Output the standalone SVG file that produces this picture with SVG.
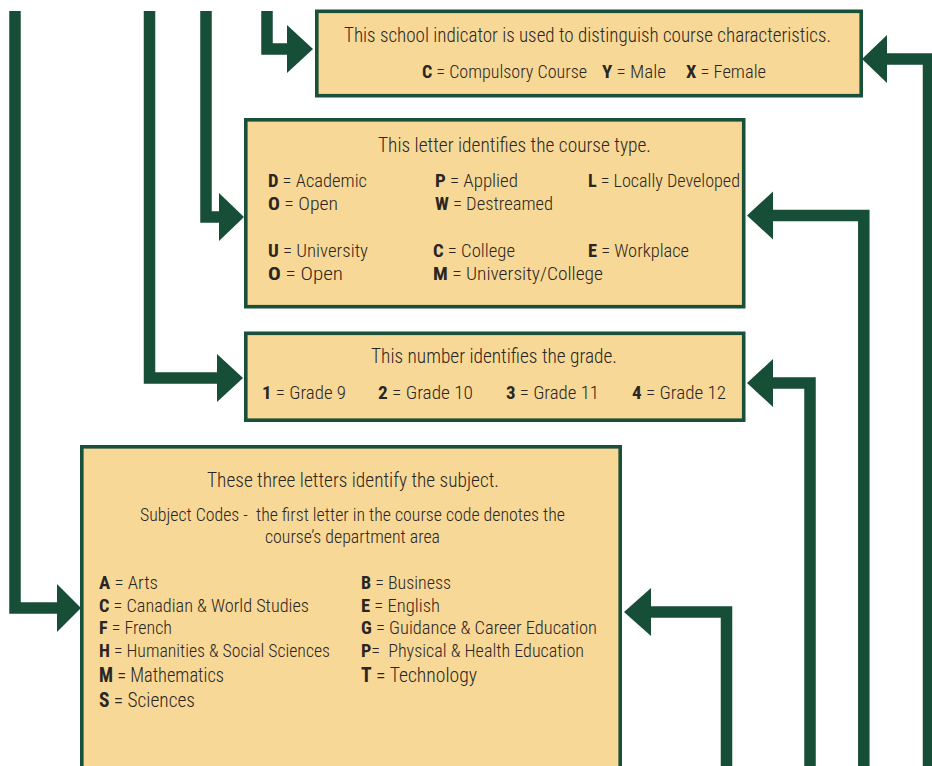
<svg xmlns="http://www.w3.org/2000/svg" width="932" height="766" viewBox="0 0 932 766">
<style>
.box{fill:#F8D896;stroke:#18503A;stroke-width:3.6}
.conn{fill:none;stroke:#174E37;stroke-width:11.5;stroke-linejoin:miter;stroke-linecap:butt}
.head{fill:#174E37}
text{font-family:"Liberation Sans Narrow","Arial Narrow","Roboto Condensed","Liberation Sans",sans-serif;font-stretch:condensed;font-weight:300;fill:#2A2623;font-size:17.5px}
.t{font-size:20px}
.b{font-weight:bold}
.lg{font-size:19.5px}
</style>
<rect width="932" height="766" fill="#FFFFFF"/>
<g id="connectors">
<polyline class="conn" points="15,11 15,608 58,608"/>
<polygon class="head" points="57,584 81,608 57,632"/>
<polyline class="conn" points="149.5,11 149.5,378 218,378"/>
<polygon class="head" points="217,354 243,378 217,402"/>
<polyline class="conn" points="206,11 206,217 220,217"/>
<polygon class="head" points="219,193 244,217 219,241"/>
<polyline class="conn" points="267,11 267,49 288,49"/>
<polygon class="head" points="287,25 313,49 287,73"/>
<polyline class="conn" points="726.5,766 726.5,612 650,612"/>
<polygon class="head" points="651,588 624,612 651,636"/>
<polyline class="conn" points="810,766 810,383 772,383"/>
<polygon class="head" points="773,359 747,383 773,407"/>
<polyline class="conn" points="863.8,766 863.8,215.5 772,215.5"/>
<polygon class="head" points="773,191.5 747,215.5 773,239.5"/>
<polyline class="conn" points="928.5,766 928.5,59 886,59"/>
<polygon class="head" points="887,35 862,59 887,83"/>
</g>
<g id="indicator">
<rect class="box" x="316.8" y="11.3" width="544.4" height="84.4"/>
<text class="t" x="344" y="42" textLength="487" lengthAdjust="spacingAndGlyphs" style="font-size:19.5px">This school indicator is used to distinguish course characteristics.</text>
<text x="422" y="78" textLength="165" lengthAdjust="spacingAndGlyphs" style="font-size:18px"><tspan class="b">C</tspan> = Compulsory Course</text>
<text x="602" y="78" textLength="64" lengthAdjust="spacingAndGlyphs" style="font-size:18px"><tspan class="b">Y</tspan> = Male</text>
<text x="686" y="78" textLength="80" lengthAdjust="spacingAndGlyphs" style="font-size:18px"><tspan class="b">X</tspan> = Female</text>
</g>
<g id="course-type">
<rect class="box" x="245.8" y="119.8" width="497.9" height="186.9"/>
<text class="t" x="378" y="152" textLength="273" lengthAdjust="spacingAndGlyphs">This letter identifies the course type.</text>
<text x="268" y="187" textLength="99" lengthAdjust="spacingAndGlyphs"><tspan class="b">D</tspan> = Academic</text>
<text x="435" y="187" textLength="83" lengthAdjust="spacingAndGlyphs"><tspan class="b">P</tspan> = Applied</text>
<text x="588" y="187" textLength="152" lengthAdjust="spacingAndGlyphs"><tspan class="b">L</tspan> = Locally Developed</text>
<text x="268" y="210" textLength="70" lengthAdjust="spacingAndGlyphs"><tspan class="b">O</tspan> = Open</text>
<text x="435" y="210" textLength="118" lengthAdjust="spacingAndGlyphs"><tspan class="b">W</tspan> = Destreamed</text>
<text x="268" y="257" textLength="100" lengthAdjust="spacingAndGlyphs"><tspan class="b">U</tspan> = University</text>
<text x="433" y="257" textLength="82" lengthAdjust="spacingAndGlyphs"><tspan class="b">C</tspan> = College</text>
<text x="588" y="257" textLength="101" lengthAdjust="spacingAndGlyphs"><tspan class="b">E</tspan> = Workplace</text>
<text x="268" y="280" textLength="75" lengthAdjust="spacingAndGlyphs" style="font-size:18px"><tspan class="b">O</tspan> = Open</text>
<text x="433" y="280" textLength="170" lengthAdjust="spacingAndGlyphs" style="font-size:18px"><tspan class="b">M</tspan> = University/College</text>
</g>
<g id="grade">
<rect class="box" x="245.8" y="333.3" width="497.9" height="86.9"/>
<text class="t" x="371" y="363" textLength="246" lengthAdjust="spacingAndGlyphs">This number identifies the grade.</text>
<text x="262" y="399" textLength="84" lengthAdjust="spacingAndGlyphs" style="font-size:18px"><tspan class="b">1</tspan> = Grade 9</text>
<text x="378" y="399" textLength="95" lengthAdjust="spacingAndGlyphs" style="font-size:18px"><tspan class="b">2</tspan> = Grade 10</text>
<text x="506" y="399" textLength="93" lengthAdjust="spacingAndGlyphs" style="font-size:18px"><tspan class="b">3</tspan> = Grade 11</text>
<text x="632" y="399" textLength="94" lengthAdjust="spacingAndGlyphs" style="font-size:18px"><tspan class="b">4</tspan> = Grade 12</text>
</g>
<g id="subject">
<rect class="box" x="81.8" y="446.8" width="538.4" height="340"/>
<text class="t" x="207" y="487" textLength="292" lengthAdjust="spacingAndGlyphs">These three letters identify the subject.</text>
<text x="140" y="521" textLength="425" lengthAdjust="spacingAndGlyphs">Subject Codes - &#160;the first letter in the course code denotes the</text>
<text x="265" y="543" textLength="175" lengthAdjust="spacingAndGlyphs">course’s department area</text>
<text x="99" y="589" textLength="59" lengthAdjust="spacingAndGlyphs"><tspan class="b">A</tspan> = Arts</text>
<text x="99" y="612" textLength="210" lengthAdjust="spacingAndGlyphs"><tspan class="b">C</tspan> = Canadian &amp; World Studies</text>
<text x="99" y="634" textLength="73" lengthAdjust="spacingAndGlyphs"><tspan class="b">F</tspan> = French</text>
<text x="99" y="657" textLength="231" lengthAdjust="spacingAndGlyphs"><tspan class="b">H</tspan> = Humanities &amp; Social Sciences</text>
<text class="lg" x="99" y="682" textLength="125" lengthAdjust="spacingAndGlyphs"><tspan class="b">M</tspan> = Mathematics</text>
<text class="lg" x="99" y="707" textLength="96" lengthAdjust="spacingAndGlyphs"><tspan class="b">S</tspan> = Sciences</text>
<text x="361" y="589" textLength="90" lengthAdjust="spacingAndGlyphs"><tspan class="b">B</tspan> = Business</text>
<text x="361" y="612" textLength="79" lengthAdjust="spacingAndGlyphs"><tspan class="b">E</tspan> = English</text>
<text x="361" y="634" textLength="236" lengthAdjust="spacingAndGlyphs"><tspan class="b">G</tspan> = Guidance &amp; Career Education</text>
<text x="361" y="657" textLength="223" lengthAdjust="spacingAndGlyphs"><tspan class="b">P</tspan>= &#160;Physical &amp; Health Education</text>
<text class="lg" x="361" y="682" textLength="116" lengthAdjust="spacingAndGlyphs"><tspan class="b">T</tspan> = Technology</text>
</g>
</svg>
